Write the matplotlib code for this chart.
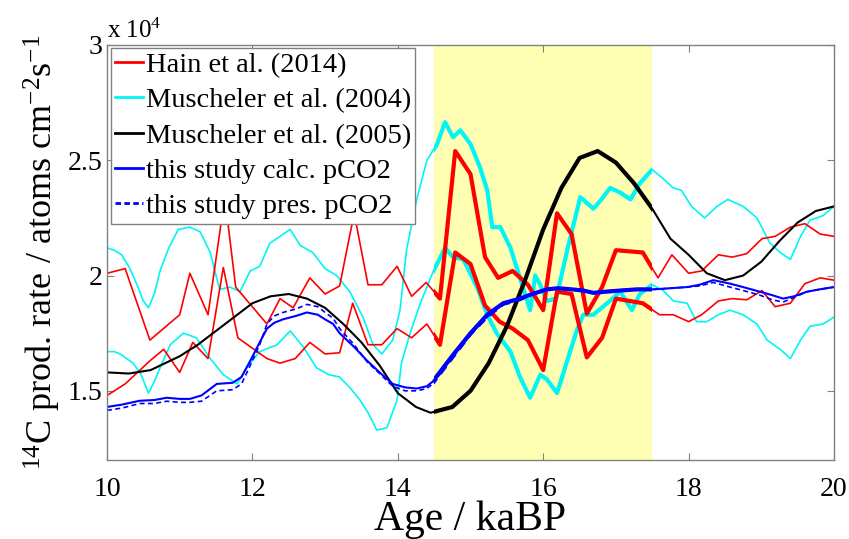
import numpy as np
import matplotlib
matplotlib.use("Agg")
import matplotlib.pyplot as plt
from matplotlib.patches import Rectangle
from matplotlib.lines import Line2D
from matplotlib.ticker import FormatStrFormatter

plt.rcParams["font.family"] = "serif"
plt.rcParams["font.serif"] = ["Liberation Serif", "DejaVu Serif"]
plt.rcParams["mathtext.fontset"] = "custom"
plt.rcParams["mathtext.rm"] = "Liberation Serif"
plt.rcParams["mathtext.it"] = "Liberation Serif:italic"

# values in units of 1e4 atoms cm-2 s-1, age in ka BP
SHADE = (14.5, 17.5)

black_age = [10.0, 10.3, 10.6, 10.8, 11.0, 11.25, 11.5, 11.75, 12.0, 12.25, 12.5, 12.75,
             13.0, 13.25, 13.5, 13.75, 14.0, 14.25, 14.45, 14.75, 15.0, 15.25, 15.5, 15.75,
             16.0, 16.25, 16.5, 16.75, 17.0, 17.25, 17.5, 17.75, 18.0, 18.25, 18.5, 18.75,
             19.0, 19.25, 19.5, 19.75, 20.0]
black_val = [1.58, 1.575, 1.59, 1.62, 1.65, 1.70, 1.76, 1.82, 1.88, 1.91, 1.92, 1.90,
             1.86, 1.79, 1.71, 1.61, 1.49, 1.43, 1.405, 1.43, 1.50, 1.62, 1.78, 1.98,
             2.20, 2.38, 2.51, 2.54, 2.49, 2.40, 2.29, 2.16, 2.09, 2.01, 1.98, 2.00,
             2.06, 2.15, 2.23, 2.28, 2.30]

blue_age = [10.0, 10.2, 10.45, 10.65, 10.82, 11.0, 11.14, 11.3, 11.51, 11.73, 11.85, 11.97,
            12.1, 12.2, 12.3, 12.42, 12.6, 12.75, 12.9, 13.0, 13.11, 13.2, 13.4, 13.58,
            13.75, 13.93, 14.1, 14.26, 14.4, 14.48, 14.6, 14.77, 15.0, 15.23, 15.45, 15.68,
            15.85, 16.05, 16.2, 16.4, 16.55, 16.69, 16.86, 17.06, 17.29, 17.51, 17.75, 17.98,
            18.15, 18.34, 18.57, 18.75, 18.98, 19.15, 19.3, 19.45, 19.63, 19.8, 20.0]
blue_calc = [1.43, 1.44, 1.457, 1.46, 1.47, 1.465, 1.465, 1.48, 1.53, 1.535, 1.56, 1.63,
             1.71, 1.77, 1.795, 1.81, 1.825, 1.84, 1.83, 1.81, 1.79, 1.75, 1.69, 1.63,
             1.58, 1.53, 1.515, 1.51, 1.52, 1.54, 1.59, 1.66, 1.75, 1.83, 1.88, 1.90,
             1.92, 1.94, 1.945, 1.94, 1.935, 1.925, 1.93, 1.935, 1.94, 1.94, 1.945, 1.95,
             1.96, 1.98, 1.965, 1.95, 1.93, 1.915, 1.90, 1.91, 1.93, 1.94, 1.95]
blue_pres = [1.415, 1.425, 1.445, 1.445, 1.455, 1.45, 1.45, 1.455, 1.50, 1.505, 1.53, 1.61,
             1.70, 1.79, 1.825, 1.84, 1.855, 1.875, 1.865, 1.84, 1.815, 1.77, 1.70, 1.625,
             1.575, 1.52, 1.50, 1.50, 1.51, 1.53, 1.58, 1.65, 1.745, 1.82, 1.875, 1.895,
             1.92, 1.94, 1.945, 1.94, 1.935, 1.925, 1.93, 1.935, 1.94, 1.94, 1.945, 1.95,
             1.955, 1.97, 1.95, 1.935, 1.915, 1.895, 1.885, 1.905, 1.93, 1.94, 1.95]

red_up_age = [10.0, 10.25, 10.59, 11.0, 11.14, 11.39, 11.62, 11.77, 12.2, 12.38, 12.56, 12.79,
              13.0, 13.2, 13.4, 13.59, 13.78, 13.99, 14.19, 14.39, 14.58, 14.79, 15.0, 15.2,
              15.38, 15.58, 15.79, 16.0, 16.19, 16.39, 16.6, 16.81, 17.0, 17.37, 17.58, 17.77,
              18.0, 18.18, 18.41, 18.6, 18.8, 19.01, 19.19, 19.4, 19.6, 19.81, 20.0]
red_up = [2.01, 2.03, 1.72, 1.83, 2.01, 1.83, 2.34, 1.95, 1.79, 1.90, 1.86, 1.99,
          1.92, 1.955, 2.27, 1.96, 1.96, 2.04, 1.91, 1.97, 1.90, 2.54, 2.44, 2.08,
          1.99, 2.02, 1.96, 1.85, 2.27, 2.18, 1.835, 1.95, 2.11, 2.10, 1.99, 2.09,
          2.01, 2.02, 2.09, 2.08, 2.095, 2.16, 2.17, 2.21, 2.225, 2.18, 2.17]

red_lo_age = [10.0, 10.25, 10.59, 10.78, 11.0, 11.18, 11.39, 11.6, 11.8, 12.2, 12.38, 12.59,
              12.79, 13.0, 13.2, 13.38, 13.59, 13.78, 13.99, 14.19, 14.4, 14.58, 14.79, 15.0,
              15.2, 15.4, 15.58, 15.79, 16.0, 16.19, 16.39, 16.6, 16.81, 17.0, 17.37, 17.6,
              17.79, 18.0, 18.18, 18.41, 18.6, 18.8, 19.01, 19.19, 19.4, 19.6, 19.81, 20.0]
red_lo = [1.48, 1.53, 1.63, 1.68, 1.58, 1.71, 1.64, 2.035, 1.73, 1.64, 1.62, 1.64,
          1.71, 1.66, 1.665, 1.88, 1.70, 1.70, 1.77, 1.73, 1.79, 1.70, 2.10, 2.05,
          1.87, 1.80, 1.77, 1.72, 1.59, 1.93, 1.92, 1.645, 1.73, 1.90, 1.88, 1.83,
          1.83, 1.80, 1.83, 1.89, 1.90, 1.895, 1.935, 1.865, 1.88, 1.965, 1.99, 1.98]

cy_up_age = [10.0, 10.1, 10.2, 10.3, 10.4, 10.5, 10.57, 10.65, 10.73, 10.85, 10.98, 11.14,
             11.28, 11.42, 11.5, 11.55, 11.69, 11.83, 11.97, 12.1, 12.24, 12.38, 12.52, 12.66,
             12.83, 13.0, 13.16, 13.34, 13.52, 13.66, 13.78, 13.93, 14.03, 14.12, 14.26, 14.4,
             14.54, 14.65, 14.76, 14.86, 15.0, 15.13, 15.23, 15.3, 15.41, 15.55, 15.68, 15.82,
             15.89, 15.96, 16.05, 16.18, 16.33, 16.51, 16.69, 16.8, 16.92, 17.06, 17.2, 17.33,
             17.5, 17.65, 17.79, 17.9, 18.04, 18.22, 18.39, 18.54, 18.75, 18.94, 19.12, 19.26,
             19.4, 19.54, 19.67, 19.85, 20.0]
cy_up = [2.12, 2.11, 2.09, 2.04, 1.97, 1.89, 1.86, 1.92, 2.02, 2.12, 2.20, 2.21,
         2.19, 2.10, 2.00, 1.94, 1.95, 1.93, 2.02, 2.04, 2.14, 2.17, 2.20, 2.13,
         2.10, 2.03, 2.00, 1.93, 1.82, 1.70, 1.66, 1.72, 1.85, 2.11, 2.33, 2.50,
         2.57, 2.665, 2.60, 2.63, 2.57, 2.47, 2.37, 2.21, 2.21, 2.12, 1.99, 1.85,
         2.00, 1.96, 1.89, 1.90, 2.11, 2.34, 2.29, 2.33, 2.38, 2.36, 2.33, 2.40,
         2.46, 2.42, 2.38, 2.37, 2.30, 2.25, 2.30, 2.33, 2.30, 2.25, 2.14, 2.10,
         2.07, 2.17, 2.24, 2.26, 2.30]

cy_lo_age = [10.0, 10.1, 10.18, 10.36, 10.47, 10.57, 10.65, 10.73, 10.87, 11.05, 11.23, 11.42,
             11.6, 11.79, 11.92, 12.1, 12.34, 12.52, 12.7, 12.88, 13.05, 13.2, 13.35, 13.48,
             13.6, 13.71, 13.85, 13.99, 14.05, 14.17, 14.31, 14.49, 14.65, 14.76, 14.9, 15.09,
             15.23, 15.36, 15.55, 15.68, 15.82, 15.96, 16.05, 16.19, 16.33, 16.46, 16.55, 16.69,
             16.88, 17.06, 17.22, 17.33, 17.5, 17.65, 17.79, 17.98, 18.11, 18.25, 18.41, 18.57,
             18.75, 18.94, 19.08, 19.26, 19.4, 19.54, 19.67, 19.85, 20.0]
cy_lo = [1.67, 1.67, 1.66, 1.62, 1.57, 1.49, 1.54, 1.60, 1.70, 1.75, 1.73, 1.64,
         1.57, 1.53, 1.60, 1.67, 1.70, 1.76, 1.69, 1.60, 1.57, 1.56, 1.51, 1.46,
         1.40, 1.33, 1.34, 1.46, 1.62, 1.75, 1.88, 2.02, 2.12, 2.08, 2.07, 1.95,
         1.83, 1.75, 1.67, 1.56, 1.47, 1.57, 1.55, 1.49, 1.63, 1.76, 1.83, 1.83,
         1.88, 1.93, 1.85, 1.92, 1.96, 1.935, 1.89, 1.88, 1.80, 1.80, 1.83, 1.85,
         1.83, 1.79, 1.72, 1.68, 1.64, 1.72, 1.78, 1.79, 1.82]

RED, CYAN, BLUE = "#ff0000", "#00f5f5", "#0000ff"
AXCOL = "#808080"


def plot_emph(ax, x, y, color, lw_thin, lw_thick, **kw):
    # thin everywhere, thick inside the shaded window (clipped)
    ax.plot(x, y, color=color, lw=lw_thin, **kw)
    thick, = ax.plot(x, y, color=color, lw=lw_thick, **kw)
    clip = Rectangle((SHADE[0], 0), SHADE[1] - SHADE[0], 10, transform=ax.transData)
    thick.set_clip_path(clip)


fig = plt.figure(figsize=(8.49, 5.39), dpi=100)
ax = fig.add_axes([107 / 849, 1 - 460 / 539, 727 / 849, 415 / 539])

ax.axvspan(*SHADE, color="#ffffb3", lw=0, zorder=0)

for x, y in [(cy_up_age, cy_up), (cy_lo_age, cy_lo)]:
    plot_emph(ax, x, y, CYAN, 1.2, 3.0)
for x, y in [(red_up_age, red_up), (red_lo_age, red_lo)]:
    plot_emph(ax, x, y, RED, 1.2, 3.0)
plot_emph(ax, black_age, black_val, "black", 1.5, 3.0)
plot_emph(ax, blue_age, blue_pres, BLUE, 1.2, 2.2, dashes=(3, 2))
plot_emph(ax, blue_age, blue_calc, BLUE, 1.5, 3.0)

ax.set_xlim(10, 20)
ax.set_ylim(1.2, 3.0)
ax.set_xticks([10, 12, 14, 16, 18, 20])
ax.set_yticks([1.5, 2.0, 2.5, 3.0])
ax.yaxis.set_major_formatter(FormatStrFormatter("%g"))
ax.tick_params(direction="in", top=True, right=True, length=5, width=0.8,
               color=AXCOL, labelsize=20)
ax.tick_params(axis="x", pad=12)
ax.tick_params(axis="y", pad=3)
for sp in ax.spines.values():
    sp.set_color(AXCOL)
    sp.set_linewidth(1.0)

ax.set_xlabel("Age / kaBP", fontsize=30, labelpad=-1)
ax.set_ylabel(r"$^{14}$C prod. rate / atoms cm$^{-2}$s$^{-1}$", fontsize=26, labelpad=4)
ax.text(0, 1.005, r"x 10$^4$", transform=ax.transAxes, fontsize=18,
        ha="left", va="bottom")

handles = [
    Line2D([], [], color=RED, lw=2),
    Line2D([], [], color=CYAN, lw=2),
    Line2D([], [], color="black", lw=2),
    Line2D([], [], color=BLUE, lw=2),
    Line2D([], [], color=BLUE, lw=2, dashes=(2, 1.2)),
]
labels = ["Hain et al. (2014)", "Muscheler et al. (2004)", "Muscheler et al. (2005)",
          "this study calc. pCO2", "this study pres. pCO2"]
leg = ax.legend(handles, labels, loc="upper left", bbox_to_anchor=(0.005, 0.993),
                borderaxespad=0, fontsize=20.5, handlelength=1.0, handletextpad=0.08,
                labelspacing=0.33, borderpad=0.15, fancybox=False, framealpha=1)
leg.get_frame().set_edgecolor(AXCOL)
leg.get_frame().set_linewidth(1.0)

fig.savefig("out.png", dpi=100)
